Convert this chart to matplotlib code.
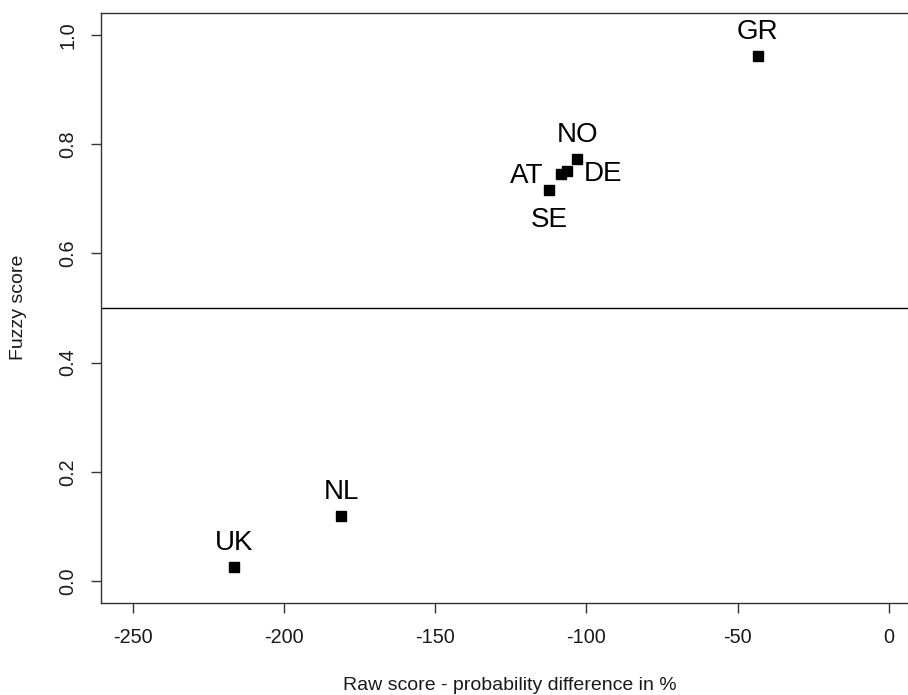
import matplotlib
matplotlib.use("Agg")
import matplotlib.pyplot as plt

countries = ["GR", "NO", "DE", "AT", "SE", "NL", "UK"]
raw_score = [-43.3, -103.1, -106.6, -108.5, -112.3, -181.2, -216.6]
fuzzy_score = [0.961, 0.772, 0.750, 0.745, 0.716, 0.119, 0.026]
label_pos = ["above", "above", "right", "left", "below", "above", "above"]
x_ticks = [-250, -200, -150, -100, -50, 0]
y_ticks = [0.0, 0.2, 0.4, 0.6, 0.8, 1.0]
y_tick_labels = ["0.0", "0.2", "0.4", "0.6", "0.8", "1.0"]
threshold = 0.5

plt.rcParams['font.family'] = ['Liberation Sans', 'DejaVu Sans']

W, H = 908, 695
fig = plt.figure(figsize=(W / 100, H / 100), dpi=100)
ax = fig.add_axes([101 / W, (H - 603) / H, 818 / W, 590 / H])
ax.set_xlim(-260.6, 10)
ax.set_ylim(-0.04, 1.04)

ax.plot(raw_score, fuzzy_score, linestyle='none', marker='s', ms=6.5,
        color='black', mec='black')
ax.axhline(threshold, color='black', lw=1)

off = 12.5
for name, x, y, pos in zip(countries, raw_score, fuzzy_score, label_pos):
    if pos == "above":
        xy, ha, va = (0, off), 'center', 'baseline'
    elif pos == "below":
        xy, ha, va = (0, -off), 'center', 'top'
    elif pos == "left":
        xy, ha, va = (-off, -1), 'right', 'center'
    else:
        xy, ha, va = (off, -1.5), 'left', 'center'
    ax.annotate(name, (x, y), xytext=xy, textcoords='offset points',
                ha=ha, va=va, fontsize=20, color='black')

ax.set_xticks(x_ticks)
ax.set_xticklabels([str(t) for t in x_ticks])
ax.set_yticks(y_ticks)
ax.set_yticklabels(y_tick_labels, rotation=90, va='center')
ax.tick_params(axis='both', direction='out', length=7.2, width=1,
               labelsize=14.3, color='#333333', labelcolor='#1a1a1a')
ax.tick_params(axis='x', pad=11)
ax.tick_params(axis='y', pad=10)
for s in ax.spines.values():
    s.set_linewidth(1)
    s.set_color('#333333')

ax.set_xlabel("Raw score - probability difference in %", fontsize=14,
              color='#1a1a1a')
ax.xaxis.set_label_coords((510 - 101) / 818, -(690 - 603) / 590)
ax.xaxis.label.set_va('baseline')
ax.set_ylabel("Fuzzy score", fontsize=14, color='#1a1a1a')
ax.yaxis.set_label_coords(-(101 - 18) / 818, (603 - 307) / 590)
ax.yaxis.label.set_va('center')

fig.savefig("out.png", dpi=100)
